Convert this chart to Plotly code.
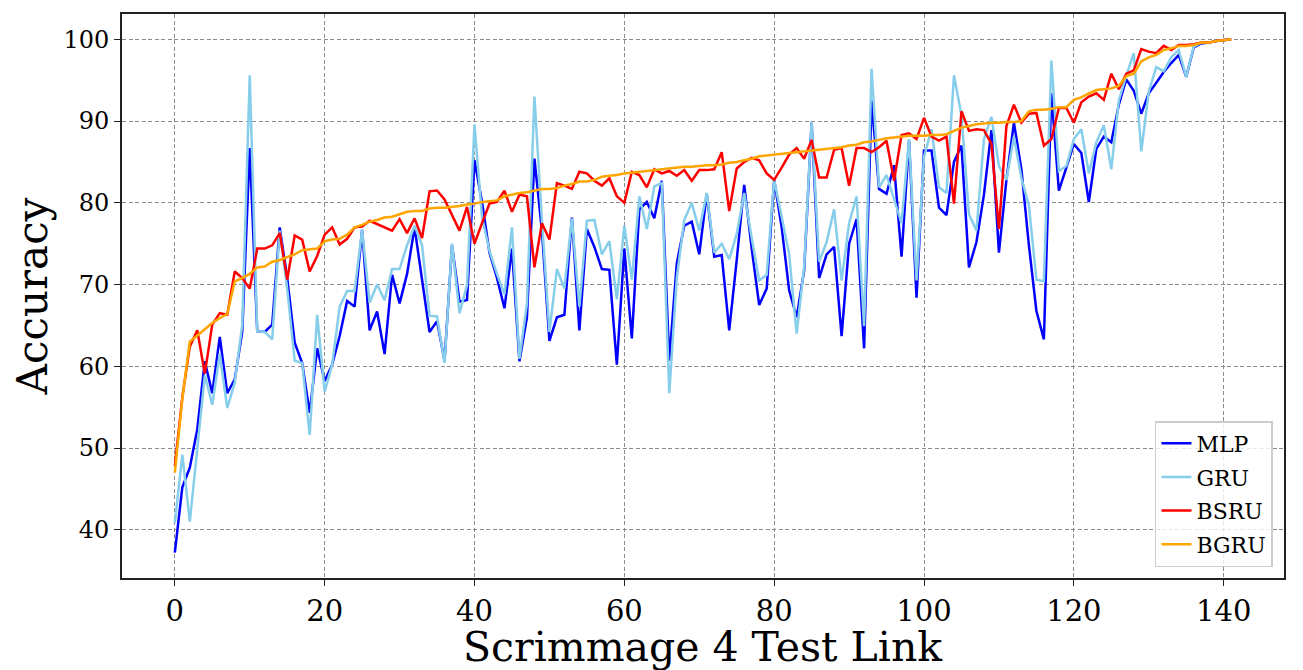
import plotly.graph_objects as go

x_links = list(range(142))

mlp = [37.2, 45.2, 47.6, 52.3, 60.6, 56.7, 63.6, 56.7, 58.4, 64.2,
       86.7, 64.3, 64.2, 65.1, 77.0, 70.8, 62.9, 60.4, 54.3, 62.2,
       58.2, 60.2, 63.7, 68.0, 67.3, 76.7, 64.4, 66.7, 61.5, 71.2,
       67.7, 71.3, 77.0, 70.8, 64.2, 65.5, 60.7, 74.8, 67.9, 68.1,
       85.2, 80.1, 73.9, 70.8, 67.1, 74.4, 60.6, 66.0, 85.4, 76.6,
       63.1, 66.0, 66.3, 78.2, 64.4, 76.8, 74.6, 71.9, 71.8, 60.2,
       74.4, 63.4, 79.2, 80.1, 78.1, 82.7, 60.7, 72.6, 77.2, 77.7,
       73.7, 81.1, 73.4, 73.6, 64.4, 73.0, 82.2, 74.4, 67.5, 69.5,
       82.8, 77.0, 69.3, 66.0, 71.7, 89.8, 70.8, 73.7, 74.6, 63.7,
       75.0, 78.0, 62.2, 92.5, 81.7, 81.1, 84.6, 73.4, 87.6, 68.4,
       86.4, 86.4, 79.4, 78.5, 85.0, 87.0, 72.1, 75.2, 81.0, 88.9,
       73.9, 82.8, 89.8, 84.1, 74.8, 66.8, 63.3, 93.4, 81.5, 84.3,
       87.2, 86.1, 80.1, 86.6, 88.1, 87.4, 92.0, 95.1, 93.7, 90.9,
       93.4, 94.7, 96.0, 97.1, 98.1, 95.4, 99.0, 99.5, 99.6, 99.8,
       99.9, 100.0]

gru = [40.8, 49.2, 41.0, 50.0, 58.9, 55.3, 61.5, 54.9, 58.0, 65.1,
       95.6, 64.3, 64.2, 63.3, 76.6, 69.5, 60.7, 60.4, 51.6, 66.3,
       56.9, 60.2, 67.3, 69.2, 69.2, 76.7, 67.8, 70.0, 68.1, 71.9,
       71.9, 74.8, 77.2, 74.8, 66.2, 66.1, 60.4, 75.0, 66.5, 69.9,
       89.6, 78.3, 74.1, 71.3, 68.8, 77.0, 60.9, 67.7, 93.0, 77.9,
       64.2, 71.9, 69.5, 78.1, 67.3, 77.8, 77.9, 73.7, 75.3, 68.2,
       77.2, 70.6, 80.8, 76.8, 82.0, 82.4, 56.7, 70.8, 77.9, 80.0,
       76.6, 81.2, 73.9, 75.0, 73.1, 76.2, 81.2, 75.7, 70.5, 71.2,
       82.8, 78.3, 73.7, 64.0, 72.2, 89.9, 72.8, 75.2, 79.2, 70.5,
       77.5, 80.8, 64.9, 96.4, 81.9, 83.4, 80.3, 77.5, 87.8, 70.5,
       85.6, 89.0, 81.9, 81.2, 95.6, 90.7, 78.6, 76.6, 87.8, 90.5,
       84.5, 82.8, 88.1, 83.0, 79.7, 70.6, 70.4, 97.4, 83.9, 84.5,
       87.8, 89.0, 83.6, 87.4, 89.5, 84.1, 92.5, 95.6, 98.3, 86.3,
       93.6, 96.6, 96.1, 97.8, 98.7, 95.4, 99.1, 99.6, 99.6, 99.8,
       99.9, 100.0]

bsru = [47.8, 56.2, 62.4, 64.4, 59.1, 65.1, 66.5, 66.3, 71.6, 70.8,
        69.5, 74.4, 74.4, 74.8, 76.3, 70.6, 76.0, 75.5, 71.6, 73.5,
        76.1, 77.0, 74.9, 75.6, 77.0, 77.1, 77.8, 77.4, 77.0, 76.6,
        78.0, 76.3, 78.1, 75.7, 81.4, 81.5, 80.4, 78.6, 76.6, 79.5,
        75.0, 77.5, 79.9, 80.1, 81.5, 78.9, 81.0, 80.8, 72.1, 77.5,
        75.5, 82.4, 82.1, 81.7, 83.8, 83.6, 82.7, 82.1, 83.0, 80.8,
        80.0, 83.8, 83.4, 81.9, 84.1, 83.6, 83.9, 83.3, 84.0, 82.7,
        84.0, 84.0, 84.1, 86.2, 79.0, 84.2, 85.0, 85.5, 85.2, 83.6,
        82.8, 84.3, 85.9, 86.7, 85.4, 87.7, 83.1, 83.1, 86.5, 86.7,
        82.1, 86.7, 86.7, 86.2, 86.8, 87.6, 82.7, 88.3, 88.5, 87.8,
        90.4, 88.1, 87.6, 88.1, 79.9, 91.2, 88.8, 89.0, 88.9, 87.2,
        76.8, 89.4, 92.0, 89.8, 90.9, 91.0, 87.0, 87.8, 91.6, 91.6,
        89.8, 92.3, 93.0, 93.4, 92.6, 95.8, 93.9, 95.8, 96.2, 98.8,
        98.5, 98.3, 99.2, 98.7, 99.3, 99.3, 99.4, 99.6, 99.6, 99.8,
        99.9, 100.0]

bgru = [47.0, 56.0, 63.0, 63.8, 64.6, 65.3, 65.9, 66.4, 70.4, 70.8,
        71.3, 72.1, 72.2, 72.8, 73.0, 73.4, 73.7, 74.2, 74.3, 74.4,
        75.3, 75.5, 75.6, 76.1, 77.0, 77.3, 77.7, 77.9, 78.2, 78.3,
        78.6, 78.9, 79.0, 79.0, 79.3, 79.4, 79.4, 79.5, 79.6, 79.8,
        79.9, 80.1, 80.2, 80.3, 80.8, 81.0, 81.2, 81.3, 81.5, 81.7,
        81.7, 81.8, 82.1, 82.3, 82.6, 82.6, 82.8, 83.2, 83.3, 83.4,
        83.6, 83.7, 83.8, 83.9, 84.0, 84.1, 84.2, 84.3, 84.4, 84.4,
        84.5, 84.6, 84.6, 84.7, 84.9, 85.0, 85.2, 85.4, 85.7, 85.8,
        85.9, 86.0, 86.1, 86.2, 86.3, 86.4, 86.5, 86.6, 86.7, 86.8,
        87.0, 87.1, 87.4, 87.5, 87.7, 87.9, 88.0, 88.1, 88.2, 88.2,
        88.2, 88.3, 88.3, 88.4, 88.8, 89.2, 89.4, 89.6, 89.7, 89.8,
        89.8, 89.9, 89.9, 90.0, 91.2, 91.4, 91.4, 91.5, 91.7, 91.7,
        92.6, 92.9, 93.4, 93.8, 93.9, 94.0, 94.3, 95.5, 95.8, 97.3,
        97.8, 98.1, 98.7, 98.9, 99.2, 99.2, 99.3, 99.6, 99.6, 99.8,
        99.9, 100.0]

series = [("MLP", mlp, "#0000ff"),
          ("GRU", gru, "#87ceeb"),
          ("BSRU", bsru, "#ff0000"),
          ("BGRU", bgru, "#ffa500")]

FONT = "DejaVu Serif"

fig = go.Figure()
for name, vals, color in series:
    fig.add_trace(go.Scatter(x=x_links, y=vals, mode="lines", name=name,
                             legendgroup=name,
                             line=dict(color=color, width=2.5)))

# the page body adds 8px, so the figure itself is a bit smaller than the window
axis_common = dict(showgrid=True, gridcolor="#8c8c8c", griddash="4px,2.5px", gridwidth=1.1,
                   showline=True, linecolor="#222222", linewidth=1.6, mirror=True,
                   ticks="outside", ticklen=6, tickwidth=1.3, tickcolor="#222222",
                   zeroline=False)

fig.update_layout(
    width=1295, height=662,
    margin=dict(l=114, r=19, t=4, b=92),
    paper_bgcolor="white", plot_bgcolor="white",
    font=dict(family=FONT, color="#000000"),
    xaxis=dict(range=[-7.05, 148.05], tickvals=list(range(0, 141, 20)),
               tickfont=dict(family=FONT, size=29, color="#000000"),
               **axis_common),
    yaxis=dict(range=[34.1, 103.1], tickvals=list(range(40, 101, 10)),
               tickfont=dict(family=FONT, size=24, color="#000000"),
               title=dict(text="Accuracy", font=dict(family=FONT, size=42), standoff=12),
               **axis_common),
    legend=dict(x=0.9905, y=0.0194, xanchor="right", yanchor="bottom",
                bgcolor="rgba(255,255,255,0.8)", bordercolor="#cccccc", borderwidth=1.5,
                font=dict(family=FONT, size=22), tracegroupgap=2),
    showlegend=True,
)

# x title as an annotation so it can sit as low as in the original
fig.add_annotation(text="Scrimmage 4 Test Link", xref="paper", yref="paper",
                   x=0.5, y=-0.123, xanchor="center", yanchor="middle",
                   showarrow=False, font=dict(family=FONT, size=41, color="#000000"))

fig.write_html("out.html")
